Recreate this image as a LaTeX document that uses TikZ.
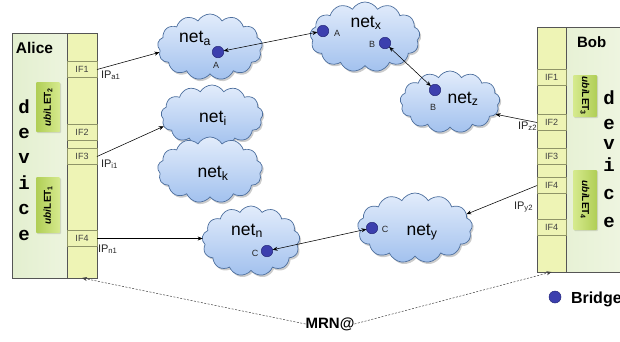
\documentclass[tikz,border=0pt]{standalone}
\usepackage{fontspec}
\setmainfont{Liberation Sans}
\newfontfamily\courfont{Liberation Mono}
\usetikzlibrary{shapes.symbols,shadows,arrows.meta}
\definecolor{cloudtop}{HTML}{E2ECFB}
\definecolor{cloudbot}{HTML}{A2C1EE}
\definecolor{cloudedge}{HTML}{4D6F9E}
\definecolor{dotfill}{HTML}{3C3FAE}
\definecolor{dotedge}{HTML}{25287A}
\definecolor{bodyl}{HTML}{E3EFCF}
\definecolor{bodyr}{HTML}{F2F7E6}
\definecolor{colfill}{HTML}{EEF4B5}
\definecolor{cellline}{HTML}{8F9468}
\definecolor{ubilight}{HTML}{D6EA8E}
\definecolor{ubidark}{HTML}{B0CE55}
\definecolor{devedge}{HTML}{555555}
\begin{document}
\begin{tikzpicture}[x=1pt,y=-1pt,
  every node/.style={inner sep=0pt, outer sep=0pt},
  cloudnode/.style={cloud, cloud puffs=13, cloud puff arc=120, aspect=1.6,
    draw=cloudedge, line width=0.7pt, top color=cloudtop, bottom color=cloudbot,
    drop shadow={shadow xshift=1.5pt, shadow yshift=-2pt, opacity=0.4}},
  nettext/.style={font=\fontsize{17.5}{19}\selectfont},
  bdot/.style={circle, fill=dotfill, draw=dotedge, line width=0.5pt, minimum size=11.5pt},
  dotlbl/.style={font=\fontsize{9}{10}\selectfont, text=black!85},
  devbody/.style={rectangle, draw=devedge, line width=0.6pt, left color=bodyl, right color=bodyr,
    drop shadow={shadow xshift=1pt, shadow yshift=-1pt, opacity=0.25}},
  devcol/.style={rectangle, draw=devedge, line width=0.6pt, fill=colfill},
  ifcell/.style={rectangle, draw=cellline, line width=0.5pt, fill=colfill,
    font=\fontsize{9}{10}\selectfont, text=black!75, minimum height=16pt},
  ubibox/.style={rectangle, rounded corners=1pt, font=\bfseries\fontsize{10}{11}\selectfont,
    minimum height=24pt, drop shadow={shadow xshift=1pt, shadow yshift=-1pt, opacity=0.25}},
  devletter/.style={font=\courfont\bfseries\fontsize{19}{20}\selectfont, anchor=base},
  iplbl/.style={font=\fontsize{11}{12}\selectfont, text=black!85, anchor=base west},
  conn/.style={line width=0.55pt, -{Stealth[length=5pt,width=4pt]}},
  biconn/.style={line width=0.55pt, {Stealth[length=5pt,width=4pt]}-{Stealth[length=5pt,width=4pt]}},
  dashline/.style={draw=black!75, line width=0.5pt, dash pattern=on 2pt off 1.5pt,
    -{Stealth[length=5pt,width=4pt]}}
]
\useasboundingbox (0,0) rectangle (620,341);

% clouds
\node[cloudnode, minimum width=105pt, minimum height=66pt] (na) at (210,47) {};
\node[cloudnode, minimum width=110pt, minimum height=70pt] (nx) at (365,37) {};
\node[cloudnode, minimum width=100pt, minimum height=62pt] (nz) at (450,102) {};
\node[cloudnode, minimum width=102pt, minimum height=62pt] (ni) at (212,116) {};
\node[cloudnode, minimum width=105pt, minimum height=66pt] (nk) at (210,170) {};
\node[cloudnode, minimum width=98pt, minimum height=70pt] (nn) at (251,241) {};
\node[cloudnode, minimum width=115pt, minimum height=70pt] (ny) at (415,228) {};

% cloud texts
\node[nettext] (tna) at (195,38.5) {net\textsubscript{a}};
\node[nettext] (tnx) at (366,23) {net\textsubscript{x}};
\node[nettext] (tnz) at (463,99) {net\textsubscript{z}};
\node[nettext] (tni) at (213,118) {net\textsubscript{i}};
\node[nettext] (tnk) at (213,173) {net\textsubscript{k}};
\node[nettext] (tnn) at (247,231) {net\textsubscript{n}};
\node[nettext] (tny) at (422,232) {net\textsubscript{y}};

% bridge dots
\node[bdot] (dA1) at (218,52) {};
\node[bdot] (dA2) at (323,31) {};
\node[bdot] (dB1) at (385,43) {};
\node[bdot] (dB2) at (435,90) {};
\node[bdot] (dC1) at (267,251) {};
\node[bdot] (dC2) at (372,228) {};
\node[dotlbl] (lA1) at (216,65) {A};
\node[dotlbl] (lA2) at (337,33) {A};
\node[dotlbl] (lB1) at (372,44) {B};
\node[dotlbl] (lB2) at (433,107) {B};
\node[dotlbl] (lC1) at (255,253) {C};
\node[dotlbl] (lC2) at (385,229) {C};

% IP labels
\node[iplbl] (ipa) at (101,78) {IP\textsubscript{a1}};
\node[iplbl] (ipi) at (101,167) {IP\textsubscript{i1}};
\node[iplbl] (ipn) at (98,252) {IP\textsubscript{n1}};
\node[iplbl] (ipz) at (518,129) {IP\textsubscript{z2}};
\node[iplbl] (ipy) at (514,209) {IP\textsubscript{y2}};

% Alice device
\node[devbody, minimum width=85pt, minimum height=245pt] (alice) at (54.5,155.5) {};
\node[devcol, minimum width=30pt, minimum height=245pt] (aCol) at (82,155.5) {};
\node[ifcell, minimum width=30pt] (aIF1) at (82,69.5) {IF1};
\node[ifcell, minimum width=30pt] (aIF2) at (82,132) {IF2};
\node[ifcell, minimum width=30pt] (aIF3) at (82,156.5) {IF3};
\node[ifcell, minimum width=30pt] (aIF4) at (82,238.5) {IF4};
\node[font=\bfseries\fontsize{15.5}{16}\selectfont, anchor=base west] (aname) at (16,53) {Alice};
\node[ubibox, rotate=90, minimum width=50pt, left color=ubidark, right color=ubilight] (ub2) at (48,107) {\textit{ubi}LET\textsubscript{2}};
\node[ubibox, rotate=90, minimum width=56pt, left color=ubidark, right color=ubilight] (ub1) at (48,205) {\textit{ubi}LET\textsubscript{1}};
\node[devletter] (ad1) at (24,113) {d};
\node[devletter] (ad2) at (24,138.4) {e};
\node[devletter] (ad3) at (24,163.8) {v};
\node[devletter] (ad4) at (24,189.2) {i};
\node[devletter] (ad5) at (24,214.6) {c};
\node[devletter] (ad6) at (24,240) {e};

% Bob device
\node[devbody, minimum width=113pt, minimum height=245pt] (bob) at (593.5,149.5) {};
\node[devcol, minimum width=29pt, minimum height=245pt] (bCol) at (551.5,149.5) {};
\node[ifcell, minimum width=29pt] (bIF1) at (551.5,77.5) {IF1};
\node[ifcell, minimum width=29pt] (bIF2) at (551.5,122.5) {IF2};
\node[ifcell, minimum width=29pt] (bIF3) at (551.5,156.5) {IF3};
\node[ifcell, minimum width=29pt] (bIF4) at (551.5,185.5) {IF4};
\node[ifcell, minimum width=29pt] (bIF5) at (551.5,227.5) {IF4};
\node[font=\bfseries\fontsize{15}{16}\selectfont, anchor=base west] (bname) at (577,47) {Bob};
\node[ubibox, rotate=-90, minimum width=42pt, left color=ubilight, right color=ubidark] (ub3) at (585,96) {\textit{ubi}LET\textsubscript{3}};
\node[ubibox, rotate=-90, minimum width=60pt, left color=ubilight, right color=ubidark] (ub4) at (585,200) {\textit{ubi}LET\textsubscript{4}};
\node[devletter] (bd1) at (609,104) {d};
\node[devletter] (bd2) at (609,129) {e};
\node[devletter] (bd3) at (609,149) {v};
\node[devletter] (bd4) at (609,171) {i};
\node[devletter] (bd5) at (609,199) {c};
\node[devletter] (bd6) at (609,227) {e};

% connectors
\draw[conn] (aIF1.east) -- (na.186);
\draw[conn] (aIF3.east) -- (ni.192);
\draw[conn] (aIF4.east) -- (aIF4.east -| nn.west);
\draw[conn] (bIF2.west) -- (nz.345);
\draw[conn] (bIF4.west) -- (ny.15);
\draw[biconn] (dA2) -- (dA1);
\draw[biconn] (dB1) -- (dB2);
\draw[biconn] (dC1) -- (dC2);

% MRN@
\node[font=\bfseries\fontsize{15}{16}\selectfont] (mrn) at (330,324) {MRN@};
\draw[dashline] (mrn.west) -- (aCol.south);
\draw[dashline] (mrn.east) -- (bCol.south);

% legend
\node[bdot, minimum size=12pt] (legdot) at (555,297) {};
\node[font=\bfseries\fontsize{16}{17}\selectfont, anchor=base west] (legtxt) at (571,303) {Bridge};
\end{tikzpicture}
\end{document}
